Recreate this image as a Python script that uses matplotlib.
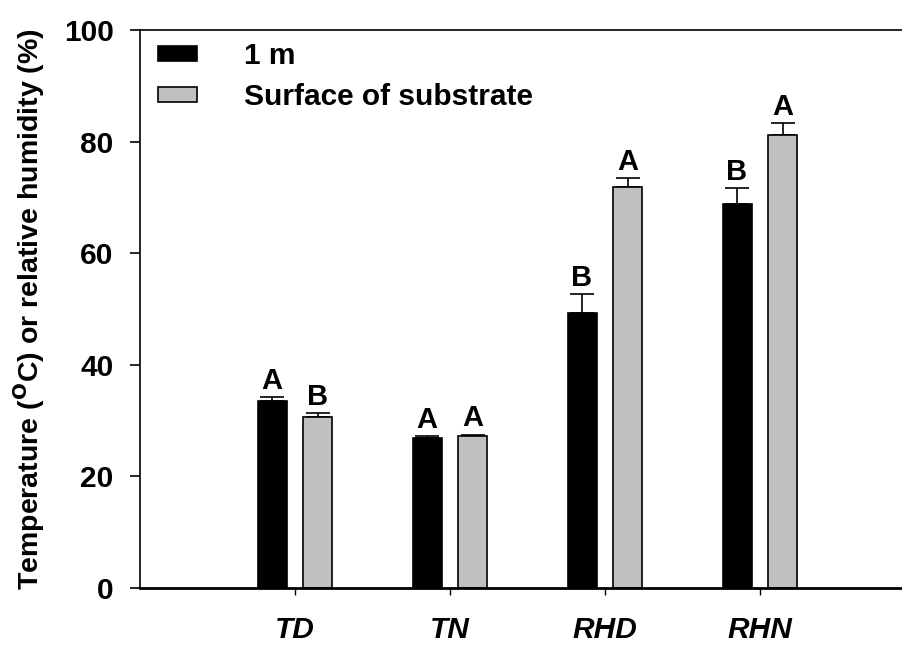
import matplotlib
matplotlib.use("Agg")
import matplotlib.pyplot as plt
import numpy as np

categories = ["TD", "TN", "RHD", "RHN"]
series_names = ["1 m", "Surface of substrate"]
mean_1m = [33.5, 26.9, 49.2, 68.8]
err_1m = [0.7, 0.3, 3.4, 2.9]
mean_surf = [30.6, 27.2, 71.9, 81.2]
err_surf = [0.7, 0.3, 1.6, 2.1]
letters_1m = ["A", "A", "B", "B"]
letters_surf = ["B", "A", "A", "A"]
yticks = [0, 20, 40, 60, 80, 100]

plt.rcParams['font.family'] = ['Liberation Sans', 'DejaVu Sans']

fig = plt.figure(figsize=(9.03, 6.45), dpi=100)
W, H = 903, 645
ax = fig.add_axes([140 / W, 57 / H, 800 / W, 558 / H])

x = np.arange(len(categories))
bw = 0.187
off = 0.148
gray = "#c0c0c0"

ax.bar(x - off, mean_1m, bw, color="black", edgecolor="black", linewidth=1.2, label=series_names[0], zorder=2)
ax.bar(x + off, mean_surf, bw, color=gray, edgecolor="black", linewidth=1.2, label=series_names[1], zorder=2)

ax.errorbar(x - off, mean_1m, yerr=[np.zeros(4), err_1m], fmt="none", ecolor="black",
            elinewidth=1.2, capsize=8.5, capthick=1.2, zorder=1)
ax.errorbar(x + off, mean_surf, yerr=[np.zeros(4), err_surf], fmt="none", ecolor="black",
            elinewidth=1.2, capsize=8.5, capthick=1.2, zorder=1)

for xi, m, e, l in zip(x - off, mean_1m, err_1m, letters_1m):
    ax.annotate(l, (xi, m + e), xytext=(0, 1.5), textcoords="offset points",
                ha="center", va="bottom", fontsize=21, fontweight="bold")
for xi, m, e, l in zip(x + off, mean_surf, err_surf, letters_surf):
    ax.annotate(l, (xi, m + e), xytext=(0, 1.5), textcoords="offset points",
                ha="center", va="bottom", fontsize=21, fontweight="bold")

ax.set_xlim(-1, -1 + 800 / 155)
ax.set_ylim(0, 100)
ax.set_yticks(yticks)
ax.set_yticklabels([str(t) for t in yticks], fontsize=21.5, fontweight="bold")
ax.set_xticks(x)
ax.set_xticklabels(categories, fontsize=21.5, fontweight="bold", style="italic")
ax.tick_params(axis="y", direction="out", length=7, width=1.2, pad=12)
ax.tick_params(axis="x", direction="out", length=5, width=1.0, pad=15)

ax.spines["right"].set_visible(False)
for s in ["left", "bottom", "top"]:
    ax.spines[s].set_linewidth(1.2)
ax.spines["bottom"].set_linewidth(2.0)

ax.set_ylabel("Temperature ($\\mathbf{^{O}}$C) or relative humidity (%)", fontsize=20.5,
              fontweight="bold", labelpad=12)

leg = ax.legend(loc="upper left", bbox_to_anchor=(0.0075, 1.0), frameon=False,
                prop={"weight": "bold", "size": 21.5}, handlelength=1.31, handleheight=0.4,
                handletextpad=1.57, labelspacing=0.45, borderaxespad=0.0, borderpad=0.4)

fig.savefig("out.png", dpi=100)
